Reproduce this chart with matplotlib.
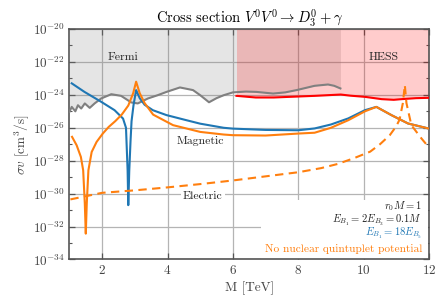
import matplotlib
matplotlib.use("Agg")
import matplotlib.pyplot as plt
import numpy as np
from matplotlib.patches import Rectangle

plt.rcParams['mathtext.fontset'] = 'cm'
plt.rcParams['font.family'] = ['cmr10', 'DejaVu Serif']
plt.rcParams['axes.unicode_minus'] = False
plt.rcParams['axes.formatter.use_mathtext'] = True

# ---- data (log10 of sigma v in cm^3/s) ----
fermi_M = [1.0, 1.07, 1.18, 1.26, 1.36, 1.47, 1.62, 1.77, 1.97, 2.28, 2.58, 2.89, 3.09,
           3.4, 3.7, 3.97, 4.38, 4.78, 5.0, 5.27, 5.5, 5.72, 6.0, 6.4, 6.72, 7.23, 7.6,
           7.95, 8.5, 8.91, 9.1, 9.29]
fermi_log = [-25.03, -24.73, -25.0, -24.63, -24.83, -24.52, -24.79, -24.52, -24.22, -23.96,
             -24.06, -24.46, -24.52, -24.22, -24.02, -23.82, -23.55, -23.71, -24.02, -24.45,
             -24.2, -24.02, -23.85, -23.8, -23.82, -23.92, -23.85, -23.71, -23.45, -23.37,
             -23.45, -23.61]

hess_M = [6.11, 6.7, 7.25, 7.74, 8.5, 9.3, 9.6, 10.04, 10.55, 10.92, 11.16, 11.6, 12.0]
hess_log = [-24.06, -24.16, -24.16, -24.12, -24.06, -23.98, -24.05, -24.12, -24.26, -24.3,
            -24.26, -24.2, -24.18]

blue_M = [1.07, 1.46, 1.97, 2.38, 2.64, 2.73, 2.78, 2.80, 2.83, 2.87, 2.90, 2.96, 3.04,
          3.15, 3.3, 3.55, 3.97, 4.58, 5.0, 5.72, 6.0, 7.0, 8.0, 8.5, 9.0, 9.53, 10.04,
          10.39, 10.85, 11.36, 12.0]
blue_log = [-23.3, -23.82, -24.42, -24.93, -25.44, -26.0, -28.6, -30.7, -28.6, -26.76,
            -25.6, -24.63, -23.71, -24.2, -24.6, -24.93, -25.23, -25.54, -25.75, -26.0,
            -26.05, -26.13, -26.15, -26.04, -25.8, -25.43, -24.93, -24.73, -25.23, -25.74,
            -26.05]

orange_M = [1.08, 1.22, 1.35, 1.42, 1.47, 1.50, 1.53, 1.58, 1.68, 1.83, 2.02, 2.2, 2.4,
            2.6, 2.8, 2.95, 3.04, 3.15, 3.3, 3.56, 4.17, 5.0, 5.72, 6.0, 7.0, 8.0, 8.5,
            9.0, 9.53, 10.04, 10.39, 10.85, 11.36, 12.0]
orange_log = [-26.55, -27.06, -27.77, -28.58, -30.6, -32.43, -30.6, -28.58, -27.47, -26.86,
              -26.35, -25.95, -25.6, -25.2, -24.65, -23.9, -23.2, -23.9, -24.5, -25.2,
              -25.84, -26.25, -26.41, -26.45, -26.47, -26.35, -26.3, -26.0, -25.54, -25.0,
              -24.73, -25.23, -25.74, -26.05]

electric_M = [1.03, 2.0, 3.0, 4.0, 5.0, 6.0, 7.0, 8.0, 8.7, 9.2, 9.7, 10.2, 10.5, 10.8,
              11.0, 11.1, 11.2, 11.26, 11.31, 11.46, 11.77, 12.0]
electric_log = [-30.35, -29.95, -29.8, -29.62, -29.42, -29.2, -28.95, -28.7, -28.45, -28.2,
                -27.85, -27.45, -27.0, -26.45, -25.9, -25.5, -24.5, -23.4, -24.5, -25.84,
                -26.65, -27.2]

yticks_exp = [-34, -32, -30, -28, -26, -24, -22, -20]
xticks = [2, 4, 6, 8, 10, 12]


def pw(a):
    return 10.0 ** np.asarray(a)


fig = plt.figure(figsize=(4.48, 3.08), dpi=100)
ax = fig.add_axes([0.155, 0.1575, 0.8026, 0.7483])

ax.fill_between(fermi_M, pw(fermi_log), 1e-20, color='gray', alpha=0.2, lw=0, zorder=1)
ax.fill_between(hess_M, pw(hess_log), 1e-20, color='red', alpha=0.2, lw=0, zorder=1)

ax.plot(fermi_M, pw(fermi_log), color='#808080', lw=1.5, zorder=3)
ax.plot(hess_M, pw(hess_log), color='red', lw=1.5, zorder=3)
ax.plot(blue_M, pw(blue_log), color='#1f77b4', lw=1.5, zorder=4)
ax.plot(orange_M, pw(orange_log), color='#ff7f0e', lw=1.5, zorder=5)
ax.plot(electric_M, pw(electric_log), color='#ff7f0e', lw=1.5, ls=(0, (4, 2.6)), zorder=5)

ax.set_yscale('log')
ax.set_xlim(1, 12)
ax.set_ylim(1e-34, 1e-20)
ax.set_yticks([10.0 ** e for e in yticks_exp])
ax.set_yticks([10.0 ** e for e in range(-33, -20, 2)], minor=True)
ax.yaxis.set_minor_formatter(matplotlib.ticker.NullFormatter())
ax.set_xticks(xticks)

ax.grid(True, which='major', color='#b4b4b4', lw=0.9, zorder=0)
ax.set_axisbelow(True)
ax.tick_params(which='both', direction='in', top=True, right=True, colors='#555555',
               labelcolor='#444444', labelsize=9.5)
ax.tick_params(which='major', length=4, width=0.9)
ax.tick_params(which='minor', length=2.5, width=0.8)
for s in ax.spines.values():
    s.set_color('#555555')
    s.set_linewidth(1.2)

ax.set_title(r'Cross section $V^0V^0 \to D^0_3 + \gamma$', fontsize=10.5, pad=3)
ax.set_xlabel('M [TeV]', fontsize=9.5, color='#444444', labelpad=3)
ax.set_ylabel(r'$\sigma v$ [cm$^3$/s]', fontsize=9.5, color='#444444', labelpad=1)

ax.text(2.65, 10 ** -21.72, 'Fermi', fontsize=8.5, ha='center', va='center', color='#222222')
ax.text(10.6, 10 ** -21.72, 'HESS', fontsize=8.5, ha='center', va='center', color='#222222')
ax.text(5.0, 10 ** -26.8, 'Magnetic', fontsize=8.5, ha='center', va='center', color='#222222',
        zorder=6)
ax.text(5.08, 10 ** -30.18, 'Electric', fontsize=8.5, ha='center', va='center', color='#222222',
        zorder=6, bbox=dict(facecolor='white', edgecolor='none', pad=1.5))

ax.add_patch(Rectangle((0.533, 0.004), 0.464, 0.253, transform=ax.transAxes,
                       facecolor='white', edgecolor='none', zorder=2))
bx = 0.9805
fs = 7.6
ax.text(bx, 0.218, r'$r_0 M = 1$', transform=ax.transAxes, ha='right', va='baseline',
        fontsize=fs, color='#222222', zorder=6)
ax.text(bx, 0.160, r'$E_{B_1} = 2E_{B_3} = 0.1M$', transform=ax.transAxes, ha='right',
        va='baseline', fontsize=fs, color='#222222', zorder=6)
ax.text(bx, 0.100, r'$E_{B_1} = 18E_{B_5}$', transform=ax.transAxes, ha='right', va='baseline',
        fontsize=fs, color='#1f77b4', zorder=6)
ax.text(bx, 0.033, 'No nuclear quintuplet potential', transform=ax.transAxes, ha='right',
        va='baseline', fontsize=8.2, color='#ff7f0e', zorder=6)

fig.savefig('out.png', dpi=100)
